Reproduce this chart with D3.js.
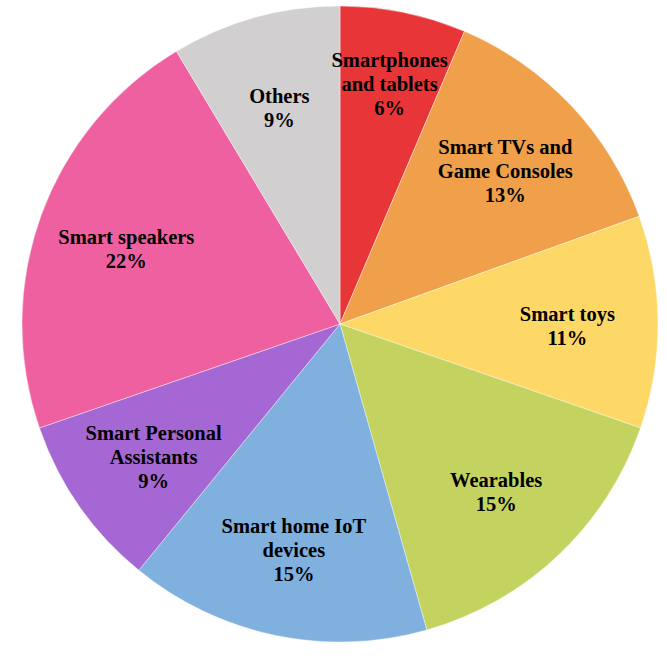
<!DOCTYPE html>
<html>
<head>
<meta charset="utf-8">
<script src="https://cdn.jsdelivr.net/npm/d3@7"></script>
<style>
  html, body { margin: 0; padding: 0; background: #fff; }
  #chart text { font-family: "Liberation Serif", "Times New Roman", serif; font-weight: bold; }
</style>
</head>
<body>
<div id="chart"></div>
<script>
// segments, clockwise from 12 o'clock
var categories = [
    "Smartphones and tablets",
    "Smart TVs and Game Consoles",
    "Smart toys",
    "Wearables",
    "Smart home IoT devices",
    "Smart Personal Assistants",
    "Smart speakers",
    "Others"
];
// share in percent
var shares = [6.4, 13.1, 10.8, 15.3, 15.3, 8.8, 21.7, 8.6];
// printed labels
var shareLabels = ["6%", "13%", "11%", "15%", "15%", "9%", "22%", "9%"];
// label line breaks as printed
var labelLines = [
    ["Smartphones", "and tablets"],
    ["Smart TVs and", "Game Consoles"],
    ["Smart toys"],
    ["Wearables"],
    ["Smart home IoT", "devices"],
    ["Smart Personal", "Assistants"],
    ["Smart speakers"],
    ["Others"]
];
var colors = ["#e83538", "#f0a04b", "#fdd866", "#c4d35f", "#7fb0de", "#a567d3", "#ef60a0", "#d1cfd0"];

var width = 667,
    height = 658,
    cx = 340,
    cy = 324,
    radius = 318;

var data = categories.map(function (c, i) {
    return { name: c, value: shares[i], label: shareLabels[i], lines: labelLines[i], color: colors[i] };
});

var svg = d3.select("#chart").append("svg")
    .attr("width", width)
    .attr("height", height)
    .append("g")
    .attr("transform", "translate(" + cx + "," + cy + ")");

var pie = d3.pie()
    .sort(null)
    .value(function (d) { return d.value; });

var arc = d3.arc()
    .innerRadius(0)
    .outerRadius(radius);

var arcs = pie(data);

svg.selectAll("path.slice")
    .data(arcs)
    .enter().append("path")
    .attr("class", "slice")
    .attr("d", arc)
    .attr("fill", function (d) { return d.data.color; })
    .attr("stroke", "#fff")
    .attr("stroke-width", 0.4);

// narrow slices get their label pushed further out, like the spreadsheet does
function labelRadius(d) {
    return (d.endAngle - d.startAngle) < 0.45 ? radius * 0.78 : radius * 0.715;
}

var lineH = 24;

var labels = svg.selectAll("text.lbl")
    .data(arcs)
    .enter().append("text")
    .attr("class", "lbl")
    .attr("text-anchor", "middle")
    .attr("font-size", 20.5)
    .attr("fill", "#000")
    .attr("transform", function (d) {
        var r = labelRadius(d),
            a = (d.startAngle + d.endAngle) / 2;
        return "translate(" + (Math.sin(a) * r) + "," + (-Math.cos(a) * r + 3) + ")";
    });

labels.each(function (d) {
    var rows = d.data.lines.concat([d.data.label]),
        t = d3.select(this),
        top = -(rows.length - 1) * lineH / 2;
    rows.forEach(function (row, i) {
        t.append("tspan")
            .attr("x", 0)
            .attr("y", top + i * lineH)
            .attr("dy", "0.35em")
            .text(row);
    });
});
</script>
</body>
</html>
